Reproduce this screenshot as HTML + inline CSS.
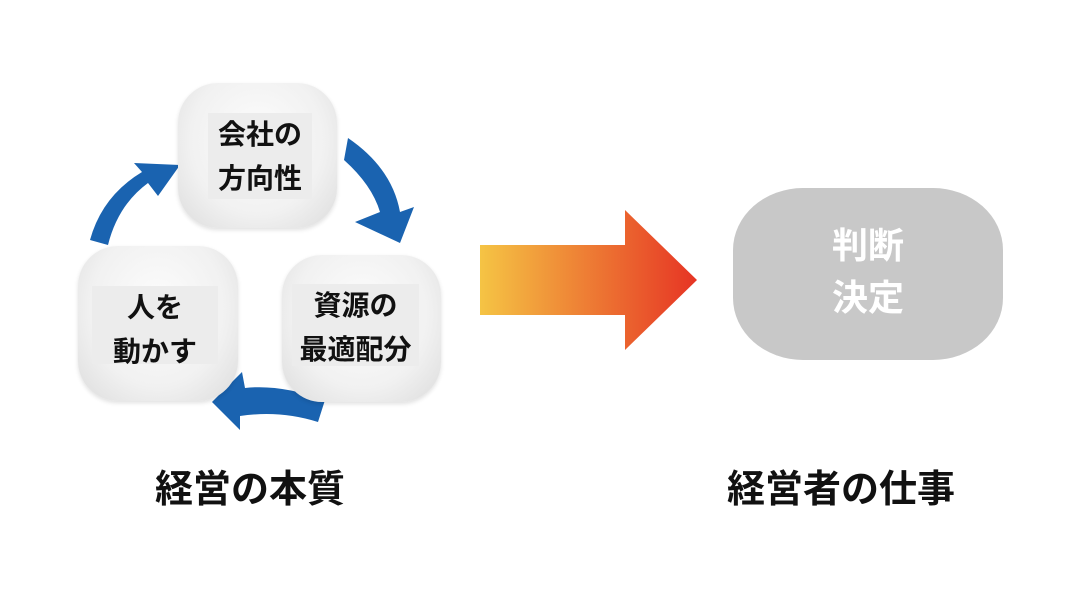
<!DOCTYPE html>
<html><head><meta charset="utf-8"><style>
body{margin:0;width:1090px;height:594px;background:#fff;position:relative;overflow:hidden;font-family:"Liberation Sans","Noto Sans CJK JP",sans-serif;font-weight:bold}
.b{position:absolute;border-radius:40px;background:radial-gradient(ellipse at 50% 40%,#fdfdfd 0%,#f1f1f1 60%,#dcdcdc 100%);box-shadow:0 2px 4px rgba(0,0,0,.12)}
.t{position:absolute;background:#ececec;font-size:28px;line-height:44px;text-align:center;color:#111;white-space:nowrap}
.lab{position:absolute;font-size:38px;color:#111;white-space:nowrap}
</style></head><body>
<svg width="1090" height="594" style="position:absolute;left:0;top:0">
<defs><linearGradient id="g" x1="0" x2="1"><stop offset="0" stop-color="#f5c444"/><stop offset="1" stop-color="#e63424"/></linearGradient></defs>
<path d="M344,160 Q372,185 380,212 L355,222 L400,243 L414,207 L400,212 Q392,168 348,138 Z" fill="#1a63b0"/>
<path d="M325,400 Q280,384 245,388 L242,372 L212,402 L240,430 L240,416 Q280,410 318,422 Z" fill="#1a63b0"/>
<path d="M108,245 Q118,205 148,183 L158,196 L180,165 L134,163 L142,172 Q102,196 90,240 Z" fill="#1a63b0"/>
<path d="M480,245 L625,245 L625,210 L697,280 L625,350 L625,315 L480,315 Z" fill="url(#g)"/>
</svg>
<div style="position:absolute;left:733px;top:188px;width:270px;height:172px;border-radius:70px/62px;background:#c8c8c8"></div>
<div class="b" style="left:178px;top:83px;width:159px;height:145px"></div>
<div class="t" style="left:208px;top:113px;width:104px;height:86px">会社の<br>方向性</div>
<div class="b" style="left:78px;top:246px;width:160px;height:155px"></div>
<div class="t" style="left:92px;top:286px;width:126px;height:78px">人を<br>動かす</div>
<div class="b" style="left:282px;top:255px;width:159px;height:147px"></div>
<div class="t" style="left:292px;top:284px;width:127px;height:82px">資源の<br>最適配分</div>
<div style="position:absolute;left:733px;top:220px;width:270px;text-align:center;font-size:36px;line-height:52px;color:#fff">判断<br>決定</div>
<div class="lab" style="left:155px;top:458px">経営の本質</div>
<div class="lab" style="left:727px;top:458px">経営者の仕事</div>
</body></html>
